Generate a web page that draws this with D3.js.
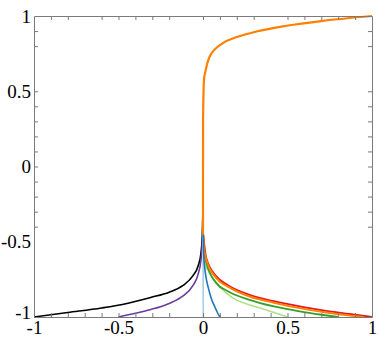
<!DOCTYPE html>
<html>
<head>
<meta charset="utf-8">
<script src="https://cdn.jsdelivr.net/npm/d3@7"></script>
<style>
  body { margin: 0; background: #fff; }
  .frame path, .frame line { stroke: #7a7a7a; }
</style>
</head>
<body>
<script>
// curves, [x, y] pairs
let blackPts = [[-1, -1], [-0.8, -0.97], [-0.6, -0.94], [-0.45, -0.91], [-0.31, -0.87], [-0.2, -0.835], [-0.118, -0.79], [-0.059, -0.725], [-0.03, -0.665], [-0.012, -0.575], [-0.004, -0.45], [-0.001, -0.32]];
let purplePts = [[-0.5, -1], [-0.4, -0.975], [-0.315, -0.952], [-0.2, -0.91], [-0.118, -0.86], [-0.059, -0.79], [-0.03, -0.72], [-0.012, -0.62], [-0.004, -0.5], [-0.001, -0.4]];
let lightBluePts = [[0, -0.42], [0.001, -0.8], [0.002, -1]];
let bluePts = [[0.001, -0.45], [0.004, -0.58], [0.01, -0.67], [0.02, -0.75], [0.03, -0.8], [0.05, -0.88], [0.069, -0.93], [0.085, -0.97], [0.1, -1]];
let lightGreenPts = [[0.001, -0.47], [0.005, -0.58], [0.015, -0.65], [0.04, -0.71], [0.1, -0.8], [0.178, -0.875], [0.25, -0.91], [0.336, -0.94], [0.42, -0.97], [0.5, -1]];
let greenPts = [[0.001, -0.45], [0.005, -0.55], [0.02, -0.64], [0.079, -0.775], [0.15, -0.83], [0.276, -0.886], [0.42, -0.93], [0.572, -0.963], [0.7, -0.985], [0.8, -1]];
let redPts = [[0.001, -0.45], [0.02, -0.61], [0.079, -0.73], [0.15, -0.79], [0.276, -0.853], [0.42, -0.895], [0.572, -0.93], [0.72, -0.958], [0.868, -0.98], [1, -1]];
let orangeLowPts = [[0.001, -0.45], [0.005, -0.53], [0.02, -0.62], [0.079, -0.742], [0.15, -0.8], [0.276, -0.864], [0.42, -0.905], [0.572, -0.941], [0.72, -0.968], [0.868, -0.99], [0.95, -1]];
let orangeUpPts = [[0, -0.45], [0.0003, 0.3], [0.006, 0.576], [0.016, 0.64], [0.04, 0.731], [0.118, 0.82], [0.2, 0.86], [0.316, 0.897], [0.493, 0.935], [0.71, 0.968], [1, 1]];

// tick values
let majorTicks = [-1, -0.5, 0, 0.5, 1];
let topTicks = [-0.9, -0.8, -0.6, -0.5, -0.4, -0.3, -0.2, 0, 0.1, 0.2, 0.3, 0.5, 0.6, 0.7, 0.8, 0.9];
let bottomTicks = [-0.9, -0.8, -0.7, -0.6, -0.5, -0.4, -0.3, -0.2, 0, 0.1, 0.2, 0.3, 0.4, 0.5, 0.6, 0.7, 0.8, 0.9];
let sideTicks = [0.9, 0.8, 0.5, 0.4, 0.3, 0.2, 0.1, 0, -0.1, -0.2, -0.3, -0.4];

let width = 380, height = 338;
let margin = { left: 34, right: 8, top: 16, bottom: 21 };

let x = d3.scaleLinear().domain([-1, 1]).range([margin.left, width - margin.right]);
let y = d3.scaleLinear().domain([-1, 1]).range([height - margin.bottom, margin.top]);

let svg = d3.select("body").append("svg").attr("width", width).attr("height", height);

// series drawn back to front
let series = [
  { pts: blackPts, color: "#000000", w: 1.6 },
  { pts: purplePts, color: "#6a3d9a", w: 1.6 },
  { pts: lightGreenPts, color: "#b2df8a", w: 1.6 },
  { pts: greenPts, color: "#33a02c", w: 1.8 },
  { pts: redPts, color: "#e31a1c", w: 1.8 },
  { pts: orangeLowPts, color: "#ff7f00", w: 2 },
  { pts: lightBluePts, color: "#a6cee3", w: 1.6 },
  { pts: bluePts, color: "#1f78b4", w: 1.6 },
  { pts: orangeUpPts, color: "#ff7f00", w: 2.2 }
];

let line = d3.line()
  .x(d => x(d[0]))
  .y(d => y(d[1]))
  .curve(d3.curveMonotoneX);

let plot = svg.append("g");
plot.selectAll("path")
  .data(series)
  .enter().append("path")
  .attr("fill", "none")
  .attr("stroke", d => d.color)
  .attr("stroke-width", d => d.w)
  .attr("d", d => line(d.pts));

let fmt = d => String(d);

// frame with inner ticks
svg.append("g").attr("class", "frame")
  .attr("transform", "translate(0," + y(-1) + ")")
  .call(d3.axisBottom(x).tickValues(bottomTicks).tickSizeInner(-4).tickSizeOuter(0).tickFormat(""));
svg.append("g").attr("class", "frame")
  .attr("transform", "translate(0," + y(1) + ")")
  .call(d3.axisTop(x).tickValues(topTicks).tickSizeInner(-4).tickSizeOuter(0).tickFormat(""));
svg.append("g").attr("class", "frame")
  .attr("transform", "translate(" + x(-1) + ",0)")
  .call(d3.axisLeft(y).tickValues(sideTicks).tickSizeInner(-4).tickSizeOuter(0).tickFormat(""));
svg.append("g").attr("class", "frame")
  .attr("transform", "translate(" + x(1) + ",0)")
  .call(d3.axisRight(y).tickValues(sideTicks).tickSizeInner(-4).tickSizeOuter(0).tickFormat(""));

// labels
let serif = "'Liberation Serif', 'DejaVu Serif', serif";
let xLab = svg.append("g")
  .attr("transform", "translate(0," + y(-1) + ")")
  .call(d3.axisBottom(x).tickValues(majorTicks).tickSize(0).tickPadding(4).tickFormat(fmt))
  .attr("font-family", serif)
  .attr("font-size", 19);
xLab.select(".domain").remove();

let yLab = svg.append("g")
  .attr("transform", "translate(" + (x(-1) - 2) + ",0)")
  .call(d3.axisLeft(y).tickValues(majorTicks).tickSize(0).tickPadding(1).tickFormat(fmt))
  .attr("font-family", serif)
  .attr("font-size", 19);
yLab.select(".domain").remove();
// lowest y label sits a little above its tick, clear of the x label
yLab.selectAll(".tick").filter(d => d === -1).select("text").attr("dy", "0.1em");
svg.selectAll("text").attr("fill", "#000");
</script>
</body>
</html>
